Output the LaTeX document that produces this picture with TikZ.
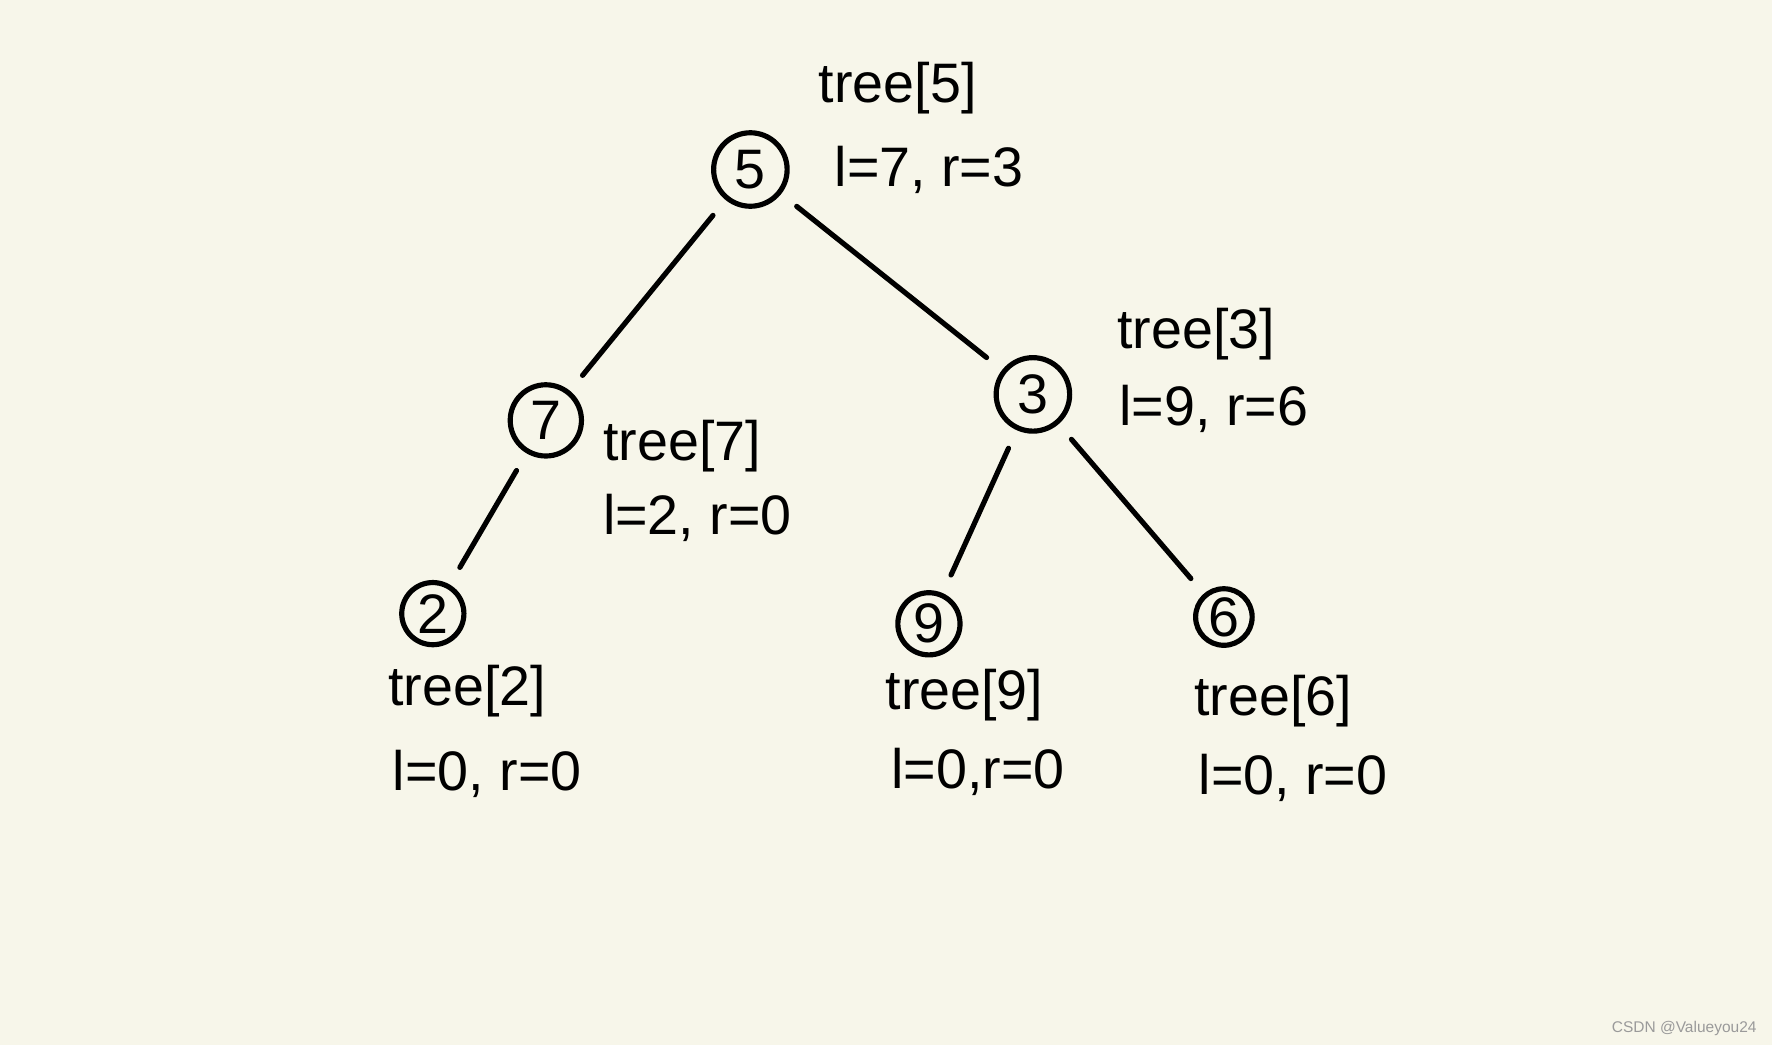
\documentclass[tikz,border=0pt]{standalone}
\usepackage{fontspec}
\setmainfont{Liberation Sans}
\definecolor{bgc}{HTML}{F7F6EA}
\definecolor{wm}{HTML}{9A9A9A}
\begin{document}
\begin{tikzpicture}[x=0.01cm,y=-0.01cm,
  tnode/.style={draw,circle,line width=1.3pt,minimum size=#1,inner sep=0pt,font=\fontsize{14}{16}\selectfont},
  edge/.style={line width=1.3pt,line cap=round,shorten <=5pt,shorten >=5pt},
  lab/.style={font=\fontsize{14}{17}\selectfont,inner sep=0pt,anchor=west}]
\fill[bgc] (0,0) rectangle (1568,925);
\useasboundingbox (0,0) rectangle (1568,925);
\node[tnode=0.65cm] (n5) at (664,150) {5};
\node[tnode=0.63cm] (n7) at (483,372) {7};
\node[tnode=0.65cm] (n3) at (914,349) {3};
\node[tnode=0.55cm] (n2) at (383,543) {2};
\node[tnode=0.55cm] (n9) at (822,552) {9};
\node[tnode=0.50cm] (n6) at (1083,546) {6};
\draw[edge] (n5) -- (n7);
\draw[edge] (n5) -- (n3);
\draw[edge] (n7) -- (n2);
\draw[edge] (n3) -- (n9);
\draw[edge] (n3) -- (n6);
\node[lab] (t5) at (724,78) {tree[5]};
\node[lab] (v5) at (738,150) {l=7, r=3};
\node[lab] (t3) at (988,296) {tree[3]};
\node[lab] (v3) at (990,362) {l=9, r=6};
\node[lab] (t7) at (533,395) {tree[7]};
\node[lab] (v7) at (533,458) {l=2, r=0};
\node[lab] (t2) at (343,612) {tree[2]};
\node[lab] (v2) at (347,685) {l=0, r=0};
\node[lab] (t9) at (783,615) {tree[9]};
\node[lab] (v9) at (788,683) {l=0,r=0};
\node[lab] (t6) at (1056,620) {tree[6]};
\node[lab] (v6) at (1060,688) {l=0, r=0};
\node[anchor=east,text=wm,font=\fontsize{3.9}{4.5}\selectfont,inner sep=0pt] (wmk) at (1555,910) {CSDN @Valueyou24};
\end{tikzpicture}
\end{document}
